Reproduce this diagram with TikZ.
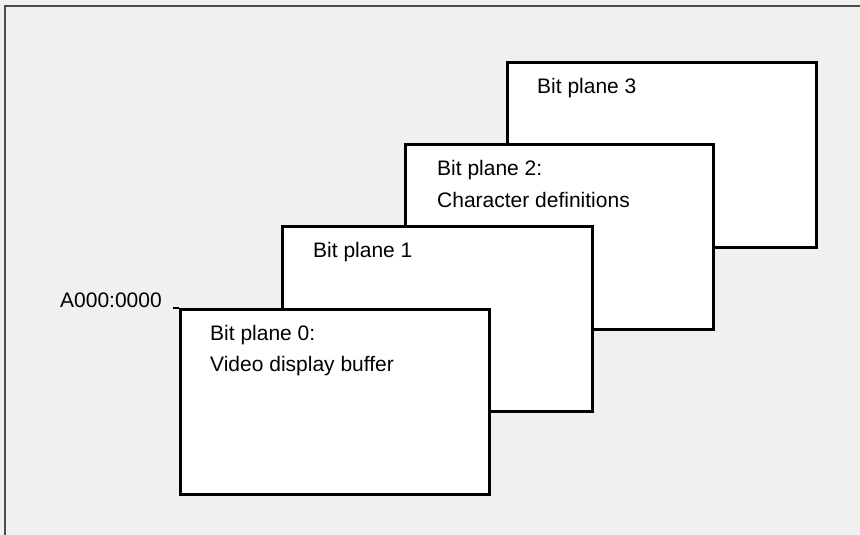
\documentclass[tikz,border=0pt]{standalone}
\usepackage{fontspec}
\setmainfont{Liberation Sans}
\begin{document}
\begin{tikzpicture}[x=1pt,y=-1pt,
  plane/.style={draw=black, line width=2.6pt, fill=white, inner sep=0pt,
    minimum width=309pt, minimum height=185pt, anchor=north west},
  lbl/.style={font=\fontsize{21}{25}\selectfont, inner sep=0pt, anchor=base west, text=black},
  frame/.style={draw=black!70, line width=1.6pt}]
\useasboundingbox (0,0) rectangle (860,535);
\fill[black!6] (0,0) rectangle (860,535);
\coordinate (ftop) at (5,6);
\coordinate (ftr) at (860,6);
\coordinate (fbl) at (5,535);
\draw[frame] (ftr) -- (ftop) -- (fbl);
% planes, back to front
\node[plane] (p3) at (506,61) {};
\node[plane, minimum width=308pt] (p2) at (404,143) {};
\node[plane, minimum width=310pt] (p1) at (281,225) {};
\node[plane] (p0) at (179,308) {};
% labels
\node[lbl] (t3) at (537,93) {Bit plane 3};
\node[lbl] (t2a) at (437,175) {Bit plane 2:};
\node[lbl] (t2b) at (437,207) {Character definitions};
\node[lbl] (t1) at (313,257) {Bit plane 1};
\node[lbl] (t0a) at (210,340) {Bit plane 0:};
\node[lbl] (t0b) at (210,371) {Video display buffer};
% address
\node[lbl] (addr) at (60,307) {A000:0000};
\coordinate (addrline) at (173,308);
\draw[line width=2.6pt] (addrline) -- (p0.north west);
\end{tikzpicture}
\end{document}
